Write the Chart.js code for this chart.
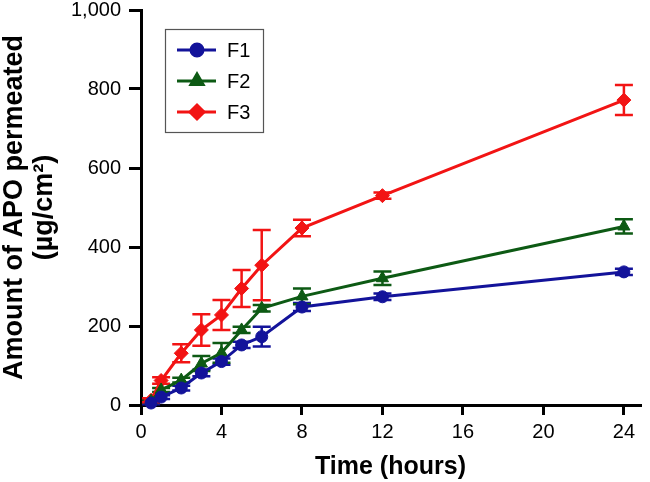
<!DOCTYPE html>
<html>
<head>
<meta charset="utf-8">
<script src="https://cdn.jsdelivr.net/npm/chart.js@4.4.0/dist/chart.umd.min.js"></script>
<style>
  html, body { margin: 0; padding: 0; background: #fff; }
  #wrap { width: 650px; height: 482px; }
</style>
</head>
<body>
<div id="wrap"><canvas id="permeationChart" width="650" height="482"></canvas></div>
<script>
// time points (hours)
const hours = [0.5, 1, 2, 3, 4, 5, 6, 8, 12, 24];

// amount of APO permeated (µg/cm²) and error (±)
const f1 = [5, 20, 43, 81, 110, 152, 173, 248, 274, 337];
const f1Err = [3, 5, 6, 8, 8, 8, 25, 10, 8, 8];
const f2 = [10, 38, 63, 105, 132, 190, 245, 275, 321, 452];
const f2Err = [3, 5, 6, 19, 25, 8, 8, 20, 17, 18];
const f3 = [12, 62, 131, 190, 228, 295, 354, 448, 530, 772];
const f3Err = [5, 8, 23, 40, 38, 47, 89, 21, 8, 38];

const seriesNames = ['F1', 'F2', 'F3'];
const xTicks = [0, 4, 8, 12, 16, 20, 24];

const FONT = "'Liberation Sans', Arial, Helvetica, sans-serif";

function toPoints(ys, errs) {
    return hours.map((h, i) => ({ x: h, y: ys[i], err: errs[i] }));
}

// error bars drawn through the chart scales
const errorBars = {
    id: 'errorBars',
    beforeDatasetsDraw(chart) {
        const ctx = chart.ctx;
        const xs = chart.scales.x, ys = chart.scales.y;
        chart.data.datasets.forEach(ds => {
            ctx.save();
            ctx.strokeStyle = ds.borderColor;
            ctx.lineWidth = 2.5;
            ds.data.forEach(p => {
                const px = xs.getPixelForValue(p.x);
                const top = ys.getPixelForValue(p.y + p.err);
                const bot = ys.getPixelForValue(p.y - p.err);
                ctx.beginPath();
                ctx.moveTo(px, top); ctx.lineTo(px, bot);
                ctx.moveTo(px - 9, top); ctx.lineTo(px + 9, top);
                ctx.moveTo(px - 9, bot); ctx.lineTo(px + 9, bot);
                ctx.stroke();
            });
            ctx.restore();
        });
    }
};

// boxed legend inside the plot
const boxLegend = {
    id: 'boxLegend',
    afterDraw(chart) {
        const ctx = chart.ctx;
        ctx.save();
        ctx.strokeStyle = '#555';
        ctx.lineWidth = 1.2;
        ctx.strokeRect(165.5, 29.5, 98, 103);
        chart.data.datasets.forEach((ds, i) => {
            const y = 50 + i * 31;
            ctx.strokeStyle = ds.borderColor;
            ctx.lineWidth = 3;
            ctx.beginPath();
            ctx.moveTo(177, y); ctx.lineTo(216, y);
            ctx.stroke();
            ctx.fillStyle = ds.backgroundColor;
            Chart.helpers.drawPoint(ctx, {
                pointStyle: ds.pointStyle,
                radius: ds.pointRadius,
                rotation: 0,
                borderWidth: 1
            }, 197, y);
            ctx.fillStyle = '#000';
            ctx.font = '20px ' + FONT;
            ctx.textBaseline = 'middle';
            ctx.fillText(ds.label, 227, y + 1);
        });
        ctx.restore();
    }
};

const ctx = document.getElementById('permeationChart').getContext('2d');

const permeationChart = new Chart(ctx, {
    type: 'line',
    data: {
        datasets: [
            {
                label: seriesNames[0],
                data: toPoints(f1, f1Err),
                borderColor: '#13139a',
                backgroundColor: '#13139a',
                pointStyle: 'circle',
                pointRadius: 6
            },
            {
                label: seriesNames[1],
                data: toPoints(f2, f2Err),
                borderColor: '#0d5a14',
                backgroundColor: '#0d5a14',
                pointStyle: 'triangle',
                pointRadius: 7
            },
            {
                label: seriesNames[2],
                data: toPoints(f3, f3Err),
                borderColor: '#f21414',
                backgroundColor: '#f21414',
                pointStyle: 'rectRot',
                pointRadius: 7
            }
        ]
    },
    options: {
        responsive: false,
        animation: false,
        layout: { padding: { top: 10, right: 10, left: 0, bottom: 0 } },
        elements: {
            line: { borderWidth: 3, tension: 0 },
            point: { borderWidth: 1 }
        },
        datasets: { line: { clip: false } },
        plugins: {
            legend: { display: false },
            tooltip: { enabled: false }
        },
        scales: {
            x: {
                type: 'linear',
                min: 0,
                max: 24.8,
                afterBuildTicks: scale => {
                    scale.ticks = xTicks.map(v => ({ value: v }));
                },
                afterFit: scale => {
                    scale.height = 77;
                    scale.paddingLeft = 0;
                    scale.paddingRight = 0;
                },
                grid: {
                    drawOnChartArea: false,
                    color: '#000',
                    lineWidth: 3,
                    tickLength: 10
                },
                border: { color: '#000', width: 3 },
                ticks: {
                    color: '#000',
                    font: { family: FONT, size: 20 },
                    padding: 5,
                    maxRotation: 0
                },
                title: {
                    display: true,
                    text: 'Time (hours)',
                    color: '#000',
                    font: { family: FONT, size: 25, weight: 'bold' },
                    padding: { top: 0, bottom: 0 }
                }
            },
            y: {
                min: 0,
                max: 1000,
                afterFit: scale => {
                    scale.width = 141;
                    scale.paddingTop = 0;
                    scale.paddingBottom = 0;
                },
                grid: {
                    drawOnChartArea: false,
                    color: '#000',
                    lineWidth: 3,
                    tickLength: 12
                },
                border: { color: '#000', width: 3 },
                ticks: {
                    stepSize: 200,
                    color: '#000',
                    font: { family: FONT, size: 20 },
                    padding: 8,
                    callback: v => v.toLocaleString('en-US')
                },
                title: {
                    display: true,
                    text: ['Amount of APO permeated', '(µg/cm²)'],
                    color: '#000',
                    font: { family: FONT, size: 27, weight: 'bold', lineHeight: 1.1 },
                    padding: { top: 0, bottom: 2 }
                }
            }
        }
    },
    plugins: [errorBars, boxLegend]
});
</script>
</body>
</html>
